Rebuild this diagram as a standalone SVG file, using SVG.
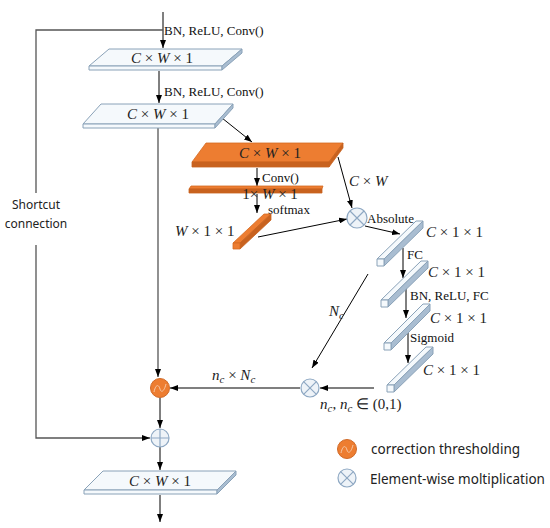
<svg xmlns="http://www.w3.org/2000/svg" width="550" height="528" viewBox="0 0 550 528">
<defs>
<marker id="ah" markerWidth="8" markerHeight="6" refX="8" refY="3" orient="auto" markerUnits="userSpaceOnUse"><path d="M0,0 L8,3 L0,6 z" fill="#000"/></marker>
<style>
.ln{stroke:#000;stroke-width:1;fill:none}
.sc{stroke:#555;stroke-width:1.3;fill:none}
.top{fill:#f5f9fc;stroke:#8aa2b8;stroke-width:1}
.side{fill:#a9bdd1;stroke:#8aa2b8;stroke-width:1}
.otop{fill:#ed7d31;stroke:#d46a22;stroke-width:0.8}
.oside{fill:#c8621f;stroke:#c8621f;stroke-width:0.8}
.lbl{font-family:"Liberation Serif",serif;font-size:13px;fill:#111}
.mth{font-family:"Liberation Serif",serif;font-size:15px;fill:#222}
.sans{font-family:"Noto Sans","Liberation Sans",sans-serif;font-size:12px;fill:#222}
.leg{font-family:"Noto Sans","Liberation Sans",sans-serif;font-size:13.5px;fill:#222}
.op{fill:#eef3f8;stroke:#8ea8c3;stroke-width:1.2}
.opl{stroke:#8ea8c3;stroke-width:1.2;fill:none}
.oc{fill:#ed7d31;stroke:#d06a28;stroke-width:1}
</style>
</defs>
<rect width="550" height="528" fill="#fff"/>

<g id="connectors">
<line class="ln" x1="163" y1="12" x2="163" y2="48" marker-end="url(#ah)"/>
<polyline class="sc" points="163,30 36,30 36,193"/>
<polyline class="sc" points="36,245 36,438 150,438" marker-end="url(#ah)"/>
<line class="ln" x1="159" y1="71" x2="159" y2="103" marker-end="url(#ah)"/>
<line class="sc" x1="158" y1="128" x2="158" y2="377" marker-end="url(#ah)"/>
<line class="ln" x1="222" y1="118" x2="252" y2="142" marker-end="url(#ah)"/>
<line class="ln" x1="257" y1="168" x2="257" y2="186" marker-end="url(#ah)"/>
<line class="ln" x1="257" y1="194" x2="257" y2="213" marker-end="url(#ah)"/>
<line class="ln" x1="338" y1="157" x2="352" y2="208" marker-end="url(#ah)"/>
<line class="ln" x1="258" y1="237" x2="347" y2="219" marker-end="url(#ah)"/>
<line class="ln" x1="365" y1="226" x2="400" y2="234" marker-end="url(#ah)"/>
<line class="ln" x1="403" y1="248" x2="403" y2="278" marker-end="url(#ah)"/>
<line class="ln" x1="406" y1="287" x2="406" y2="318" marker-end="url(#ah)"/>
<line class="ln" x1="408" y1="333" x2="408" y2="363" marker-end="url(#ah)"/>
<line class="sc" x1="374" y1="388" x2="320" y2="388" marker-end="url(#ah)"/>
<line class="ln" x1="368" y1="274" x2="312" y2="368" marker-end="url(#ah)"/>
<line class="sc" x1="300" y1="388" x2="170" y2="388" marker-end="url(#ah)"/>
<line class="ln" x1="160" y1="398" x2="160" y2="428" marker-end="url(#ah)"/>
<line class="ln" x1="160" y1="447" x2="160" y2="470" marker-end="url(#ah)"/>
<line class="ln" x1="160" y1="495" x2="160" y2="522" marker-end="url(#ah)"/>
</g>

<g id="labels">
<text class="lbl" x="164" y="35">BN, ReLU, Conv()</text>
<text class="lbl" x="164" y="96">BN, ReLU, Conv()</text>
<text class="lbl" x="262" y="182">Conv()</text>
<text class="lbl" x="268" y="214">softmax</text>
<text class="mth" x="349" y="186"><tspan font-style="italic">C</tspan> × <tspan font-style="italic">W</tspan></text>
<text class="mth" x="175" y="236"><tspan font-style="italic">W</tspan> × 1 × 1</text>
<text class="lbl" x="367" y="223">Absolute</text>
<text class="lbl" x="407" y="259">FC</text>
<text class="lbl" x="410" y="300">BN, ReLU, FC</text>
<text class="lbl" x="410" y="342">Sigmoid</text>
<text class="mth" x="426" y="237"><tspan font-style="italic">C</tspan> × 1 × 1</text>
<text class="mth" x="428" y="277"><tspan font-style="italic">C</tspan> × 1 × 1</text>
<text class="mth" x="430" y="323"><tspan font-style="italic">C</tspan> × 1 × 1</text>
<text class="mth" x="423" y="375"><tspan font-style="italic">C</tspan> × 1 × 1</text>
<text class="mth" x="329" y="316" font-style="italic">N<tspan font-size="11" dy="3">c</tspan></text>
<text class="mth" x="212" y="380"><tspan font-style="italic">n</tspan><tspan font-size="11" dy="3" font-style="italic">c</tspan><tspan dy="-3"> × </tspan><tspan font-style="italic">N</tspan><tspan font-size="11" dy="3" font-style="italic">c</tspan></text>
<text class="mth" x="320" y="409"><tspan font-style="italic">n</tspan><tspan font-size="11" dy="3" font-style="italic">c</tspan><tspan dy="-3">, </tspan><tspan font-style="italic">n</tspan><tspan font-size="11" dy="3" font-style="italic">c</tspan><tspan dy="-3"> ∈ (0,1)</tspan></text>
<text class="sans" x="36" y="209" text-anchor="middle">Shortcut</text>
<text class="sans" x="36" y="228" text-anchor="middle">connection</text>
</g>

<g id="box1">
<polygon class="top" points="109,49 242,49 222,66 89,66"/>
<polygon class="top" points="89,66 222,66 222,70 89,70"/>
<polygon class="side" points="222,66 242,49 242,53 222,70"/>
<text class="mth" x="162" y="63" text-anchor="middle"><tspan font-style="italic">C</tspan> × <tspan font-style="italic">W</tspan> × 1</text>
</g>

<g id="box2">
<polygon class="top" points="101,104 233,104 215,124 83,124"/>
<polygon class="top" points="83,124 215,124 215,128 83,128"/>
<polygon class="side" points="215,124 233,104 233,108 215,128"/>
<text class="mth" x="158" y="119" text-anchor="middle"><tspan font-style="italic">C</tspan> × <tspan font-style="italic">W</tspan> × 1</text>
</g>

<g id="orangeBox">
<polygon class="otop" points="206,143 343,143 329,162 192,162"/>
<polygon class="oside" points="192,162 329,162 329,167 192,167"/>
<polygon class="oside" points="329,162 343,143 343,148 329,167"/>
<text class="mth" x="270" y="158" text-anchor="middle"><tspan font-style="italic">C</tspan> × <tspan font-style="italic">W</tspan> × 1</text>
</g>

<g id="orangeStrip">
<polygon class="otop" points="191,186 323,186 322,189 189,189"/>
<polygon class="oside" points="189,189 322,189 322,193 189,193"/>
<text class="mth" x="270" y="199" text-anchor="middle">1× <tspan font-style="italic">W</tspan> × 1</text>
</g>

<g id="orangeBar">
<polygon class="otop" points="233,243 240,243 271,214 264,214"/>
<polygon class="oside" points="240,243 271,214 271,220 240,249"/>
<polygon class="otop" points="233,243 240,243 240,249 233,249"/>
</g>

<g id="mulTop">
<circle class="op" cx="357" cy="218" r="10"/>
<path class="opl" d="M350,211 L364,225 M364,211 L350,225"/>
</g>

<g id="bar1">
<polygon class="top" points="377,259 384,259 423,221 416,221"/>
<polygon class="side" points="384,259 423,221 423,228 384,266"/>
<polygon class="top" points="377,259 384,259 384,266 377,266"/>
</g>
<g id="bar2">
<polygon class="top" points="381,300 388,300 428,261 421,261"/>
<polygon class="side" points="388,300 428,261 428,268 388,307"/>
<polygon class="top" points="381,300 388,300 388,307 381,307"/>
</g>
<g id="bar3">
<polygon class="top" points="384,343 391,343 430,304 423,304"/>
<polygon class="side" points="391,343 430,304 430,311 391,350"/>
<polygon class="top" points="384,343 391,343 391,350 384,350"/>
</g>
<g id="bar4">
<polygon class="top" points="387,385 394,385 433,347 426,347"/>
<polygon class="side" points="394,385 433,347 433,354 394,392"/>
<polygon class="top" points="387,385 394,385 394,392 387,392"/>
</g>

<g id="mulBottom">
<circle class="op" cx="310" cy="388" r="9"/>
<path class="opl" d="M303.6,381.6 L316.4,394.4 M316.4,381.6 L303.6,394.4"/>
</g>

<g id="threshold">
<circle class="oc" cx="160" cy="388" r="9.5"/>
<path d="M154,392 C156,383 159,385 160,389 C161,393 164,392 166,384" stroke="#f6c9a8" stroke-width="1" fill="none"/>
</g>

<g id="add">
<circle class="op" cx="160" cy="438" r="9"/>
<path class="opl" d="M151,438 L169,438 M160,429 L160,447"/>
</g>

<g id="box3">
<polygon class="top" points="103,471 236,471 217,490 84,490"/>
<polygon class="top" points="84,490 217,490 217,494 84,494"/>
<polygon class="side" points="217,490 236,471 236,475 217,494"/>
<text class="mth" x="160" y="486" text-anchor="middle"><tspan font-style="italic">C</tspan> × <tspan font-style="italic">W</tspan> × 1</text>
</g>

<g id="legend">
<circle class="oc" cx="347" cy="449" r="9.5"/>
<path d="M341,453 C343,444 346,446 347,450 C348,454 351,453 353,445" stroke="#f6c9a8" stroke-width="1" fill="none"/>
<text class="leg" x="371" y="454">correction thresholding</text>
<circle class="op" cx="347" cy="478" r="9"/>
<path class="opl" d="M340.6,471.6 L353.4,484.4 M353.4,471.6 L340.6,484.4"/>
<text class="leg" x="370" y="484">Element-wise moltiplication</text>
</g>
</svg>
